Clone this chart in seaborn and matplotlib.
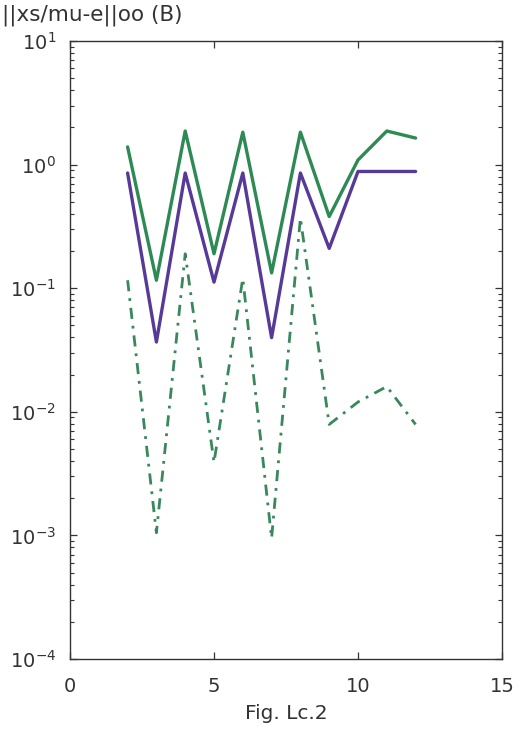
import numpy as np
import pandas as pd
import matplotlib
matplotlib.use("Agg")
import matplotlib.pyplot as plt
import matplotlib.ticker as mticker
import seaborn as sns

# iteration index
iters = [2, 3, 4, 5, 6, 7, 8, 9, 10, 11, 12]
# error norms per iteration
err_upper = [1.39, 0.116, 1.87, 0.19, 1.83, 0.133, 1.83, 0.38, 1.09, 1.87, 1.64]
err_lower = [0.855, 0.0367, 0.855, 0.112, 0.855, 0.0398, 0.855, 0.21, 0.88, 0.88, 0.88]
err_step = [0.116, 0.00105, 0.19, 0.0039, 0.12, 0.00095, 0.37, 0.0079, 0.012, 0.016, 0.0079]

x_ticks = [0, 5, 10, 15]
y_exponents = [-4, -3, -2, -1, 0, 1]

sns.set_style("ticks")
plt.rcParams["font.family"] = ["DejaVu Sans"]
plt.rcParams["mathtext.fontset"] = "dejavusans"

fig = plt.figure(figsize=(5.24, 7.31), dpi=100)
ax = fig.add_axes([0.1336, 0.0985, 0.958 - 0.1336, 0.9439 - 0.0985])

df = pd.DataFrame({"it": iters, "upper": err_upper, "lower": err_lower, "step": err_step})

sns.lineplot(data=df, x="it", y="upper", ax=ax, color="#2e8a55", linewidth=2.4)
sns.lineplot(data=df, x="it", y="lower", ax=ax, color="#573a98", linewidth=2.4)
sns.lineplot(data=df, x="it", y="step", ax=ax, color="#38885c", linewidth=2.0,
             linestyle=(0, (4, 2.5, 1, 2.5)))

ax.set_yscale("log")
ax.set_xlim(0, 15)
ax.set_ylim(1e-4, 1e1)
ax.set_xticks(x_ticks)
ax.set_xticklabels([str(t) for t in x_ticks])
ax.set_yticks([10.0 ** e for e in y_exponents])
ax.set_yticklabels([r"$\mathregular{10^{%d}}$" % e for e in y_exponents])
ax.yaxis.set_minor_locator(mticker.LogLocator(base=10, subs=np.arange(2, 10), numticks=20))
ax.yaxis.set_minor_formatter(mticker.NullFormatter())

ax.tick_params(axis="both", which="both", direction="in", top=True, right=True,
               colors="#333333", labelcolor="#333333", labelsize=14)
ax.tick_params(axis="both", which="major", length=5, width=0.9)
ax.tick_params(axis="y", which="minor", length=3, width=0.8)
ax.tick_params(axis="x", which="major", pad=13)
ax.tick_params(axis="y", which="major", pad=10)
for s in ax.spines.values():
    s.set_visible(True)
    s.set_color("#333333")
    s.set_linewidth(1.0)

ax.set_xlabel("Fig. Lc.2", fontsize=14.5, color="#333333", labelpad=6)
ax.set_ylabel("")
fig.text(0.003, 0.979, "||xs/mu-e||oo (B)", fontsize=15.5, color="#333333",
         ha="left", va="center")

fig.savefig("out.png", dpi=100)
